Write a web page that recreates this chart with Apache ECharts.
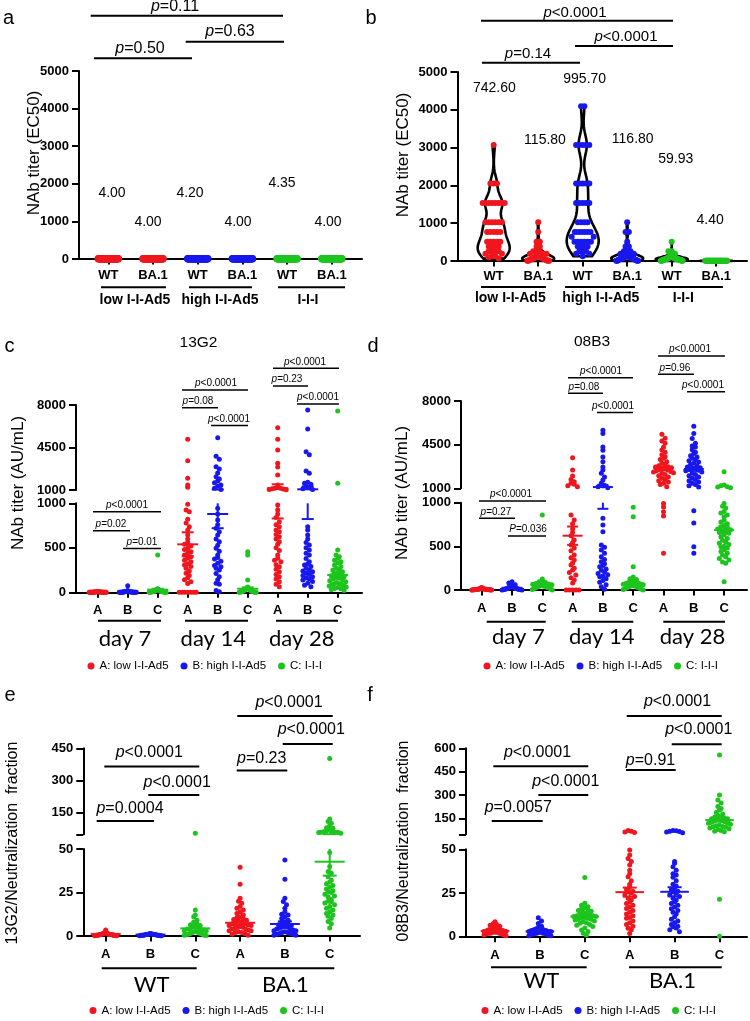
<!DOCTYPE html>
<html><head><meta charset="utf-8">
<script src="https://cdn.jsdelivr.net/npm/echarts@6.0.0/dist/echarts.min.js"></script>
<style>html,body{margin:0;padding:0;background:#fff}#c{width:750px;height:1021px}</style>
</head><body><div id="c"></div>
<script>
// ================= DATA =================
const SERIES_NAMES = ['A: low I-I-Ad5', 'B: high I-I-Ad5', 'C: I-I-I'];

// ---- panel a : NAb titer (EC50) ----
const A_CATS = ['WT', 'BA.1', 'WT', 'BA.1', 'WT', 'BA.1'];
const A_GROUP_LABELS = ['low I-I-Ad5', 'high I-I-Ad5', 'I-I-I'];
const A_GMT = ['4.00', '4.00', '4.20', '4.00', '4.35', '4.00'];
const A_PVALS = ['p=0.11', 'p=0.63', 'p=0.50'];
const A_LOW_WT = [4,4,4,4,4,4,4,4,4,4,4,4,4,4,4,4,4,4,4,4,4,4,4,4,4,4,4,4,4,4,4,4,4,4,4,4,4,4,4,4];
const A_LOW_BA1 = [4,4,4,4,4,4,4,4,4,4,4,4,4,4,4,4,4,4,4,4,4,4,4,4,4,4,4,4,4,4,4,4,4,4,4,4,4,4,4,4];
const A_HIGH_WT = [8,8,8,4,4,4,4,4,4,4,4,4,4,4,4,4,4,4,4,4,4,4,4,4,4,4,4,4,4,4,4,4,4,4,4,4,4,4,4,4];
const A_HIGH_BA1 = [4,4,4,4,4,4,4,4,4,4,4,4,4,4,4,4,4,4,4,4,4,4,4,4,4,4,4,4,4,4,4,4,4,4,4,4,4,4,4,4];
const A_III_WT = [8,8,8,8,8,4,4,4,4,4,4,4,4,4,4,4,4,4,4,4,4,4,4,4,4,4,4,4,4,4,4,4,4,4,4,4,4,4,4,4];
const A_III_BA1 = [4,4,4,4,4,4,4,4,4,4,4,4,4,4,4,4,4,4,4,4,4,4,4,4,4,4,4,4,4,4,4,4,4,4,4,4,4,4,4,4];

// ---- panel b : NAb titer (EC50), violins ----
const B_CATS = ['WT', 'BA.1', 'WT', 'BA.1', 'WT', 'BA.1'];
const B_GMT = ['742.60', '115.80', '995.70', '116.80', '59.93', '4.40'];
const B_PVALS = ['p<0.0001', 'p<0.0001', 'p=0.14'];
const B_LOW_WT = [3072,2048,2048,2048,1536,1536,1536,1536,1536,1536,1536,1536,1024,1024,1024,1024,1024,1024,768,768,768,768,768,512,512,512,512,512,384,384,384,384,256,256,256,256,192,192,128,128,96,64];
const B_LOW_BA1 = [1024,768,512,512,384,384,256,256,256,192,192,192,128,128,128,128,128,128,96,96,96,96,64,64,64,64,64,48,48,48,32,32,32,16,16,16,8,8,4,4];
const B_HIGH_WT = [4096,4096,3072,3072,3072,3072,3072,2048,2048,2048,2048,2048,1536,1536,1536,1536,1536,1024,1024,1024,1024,768,768,768,768,768,768,640,640,512,512,512,512,512,512,384,384,384,384,256,256,256,192,192,128];
const B_HIGH_BA1 = [1024,768,768,512,384,384,256,256,256,192,192,128,128,128,128,128,128,96,96,96,96,96,64,64,64,64,64,64,48,48,48,32,32,32,16,16,8,8,4,4];
const B_III_WT = [512,256,256,192,128,128,128,128,128,96,96,96,96,96,64,64,64,64,64,64,64,64,48,48,48,48,48,32,32,32,32,32,32,16,16,16,16,8,8,4,4];
const B_III_BA1 = [8,8,8,8,8,8,4,4,4,4,4,4,4,4,4,4,4,4,4,4,4,4,4,4,4,4,4,4,4,4,4,4,4,4,4,4,4,4,4,4,4];

// ---- panel c : 13G2, NAb titer (AU/mL) ----
const CD_CATS = ['A', 'B', 'C', 'A', 'B', 'C', 'A', 'B', 'C'];
const CD_DAYS = ['day 7', 'day 14', 'day 28'];
const C_TITLE = '13G2';
const C_PVALS = ['p<0.0001', 'p=0.02', 'p=0.01', 'p<0.0001', 'p=0.08', 'p<0.0001', 'p<0.0001', 'p=0.23', 'p<0.0001'];
const C_D7_A = [10,8,6,5,5,4,4,3,3,3,2,2,2,2,1,1,1,1,1,1,0,0,0,0,0,0,0,0,0,0];
const C_D7_B = [74,20,15,12,10,8,8,6,6,5,5,4,4,3,3,2,2,2,1,1,1,0,0,0,0,0,0,0];
const C_D7_C = [419,40,35,30,30,25,20,20,18,15,15,12,10,10,8,8,6,5,5,4,3,2,2,1,1,0,0,0];
const C_D14_A = [5175,3413,1963,1412,1222,989,925,906,820,780,737,700,644,600,560,539,520,494,480,456,440,419,400,382,360,344,320,307,290,270,240,213,190,164,140,119,100,0,0,0,0,0,0,0];
const C_D14_B = [5307,3777,3528,2919,2729,2400,2095,1900,1741,1600,1412,1300,1150,1050,944,880,812,760,719,680,644,600,569,530,494,460,419,390,374,350,326,300,288,270,250,210,175,140,101,90,20,5];
const C_D14_C = [456,419,138,60,55,50,45,40,35,30,30,25,20,20,15,15,10,10,10,5,5,5,0,0,0,0,0];
const C_D28_A = [6131,5175,4294,3199,2900,2235,1412,1200,1150,1140,1100,1080,1050,1020,981,925,880,840,793,760,737,700,681,650,625,600,569,540,500,470,420,382,360,344,310,288,260,232,200,175,150,119,90,63];
const C_D28_B = [7588,6023,4154,3900,2565,2375,1634,1550,1470,1300,1190,1100,1050,737,700,644,600,560,531,500,475,440,419,380,344,320,307,290,270,250,240,230,213,200,190,175,160,150,138,120,101,80,63];
const C_D28_C = [7505,1549,475,419,400,382,360,344,330,307,290,270,260,250,232,220,210,194,185,175,165,157,150,140,130,119,110,100,95,90,82,75,70,60,55,44,40,30,20];
const C_MEAN = [3, 8, 30, 539, 880, 40, 1150, 1058, 194];
const C_SEM = [1, 3, 10, 135, 160, 15, 320, 235, 22];

// ---- panel d : 08B3, NAb titer (AU/mL) ----
const D_TITLE = '08B3';
const D_PVALS = ['p<0.0001', 'p=0.27', 'P=0.036', 'p<0.0001', 'p=0.08', 'p<0.0001', 'p<0.0001', 'p=0.96', 'p<0.0001'];
const D_D7_A = [30,25,20,18,15,15,12,12,10,10,10,8,8,8,6,6,5,5,4,4,3,3,2,2,1,1,0,0];
const D_D7_B = [95,80,60,50,45,40,35,30,30,25,25,20,20,18,15,15,12,10,10,8,6,5,4,2,0,0];
const D_D7_C = [859,126,110,95,85,75,70,65,60,55,50,50,45,45,40,40,35,35,30,30,25,20,20,15,10,5,0];
const D_D14_A = [3454,2468,1986,1700,1530,1400,1321,1200,1128,859,802,760,700,660,620,573,540,515,480,450,401,370,344,310,286,250,229,200,172,140,115,80,0,0,0,0,0];
const D_D14_B = [5652,5385,4310,4050,3514,3133,2700,2468,2200,1900,1665,1400,1250,1128,1050,821,745,668,515,490,458,420,382,350,324,300,280,267,240,225,210,190,175,160,153,130,110,90,60,38,10];
const D_D14_C = [947,840,267,150,130,120,110,100,90,85,80,75,70,65,60,55,50,45,40,35,30,25,20,15,10,5,0];
const D_D28_A = [5331,5010,4800,4609,4300,4072,3900,3700,3537,3400,3300,3133,3000,2900,2800,2732,2700,2650,2600,2550,2500,2468,2400,2350,2300,2250,2200,2100,2000,1900,1800,1700,1600,1500,1400,1300,1128,990,951,897,848,421];
const D_D28_B = [5985,5400,5000,4609,4400,4310,4100,3900,3800,3600,3500,3400,3300,3200,3100,3000,2900,2800,2700,2650,2600,2550,2500,2450,2400,2300,2200,2100,2000,1900,1800,1700,1600,1500,1400,1300,1200,1100,908,767,496,421];
const D_D28_C = [2331,1265,1200,1128,1100,1050,990,960,938,900,881,860,840,800,780,760,740,725,710,700,690,680,670,660,649,630,610,590,570,550,535,520,500,496,480,458,440,421,400,382,360,344,320,305,95];
const D_MEAN = [10, 25, 45, 622, 1100, 65, 2604, 2549, 687];
const D_SEM = [2, 5, 8, 105, 170, 25, 150, 150, 40];

// ---- panel e : 13G2/Neutralization fraction ----
const EF_CATS = ['A', 'B', 'C', 'A', 'B', 'C'];
const EF_VARIANTS = ['WT', 'BA.1'];
const E_PVALS = ['p<0.0001', 'p<0.0001', 'p=0.0004', 'p<0.0001', 'p<0.0001', 'p=0.23'];
const E_WT_A = [3.5,2.5,2,2,1.8,1.5,1.5,1.2,1.2,1,1,1,1,0.9,0.8,0.8,0.7,0.7,0.6,0.6,0.5,0.5,0.5,0.4,0.4,0.3,0.3,0.2,0.2,0.1];
const E_WT_B = [1.5,1.3,1.2,1.1,1,1,0.9,0.9,0.8,0.8,0.7,0.7,0.6,0.6,0.5,0.5,0.5,0.4,0.4,0.3,0.3,0.2,0.2,0.1];
const E_WT_C = [55,15,12,11,9,8,7,6.5,6,5.5,5,4.5,4,4,3.5,3,3,2.5,2.5,2,2,1.5,1.5,1,1,0.8,0.5,0.5,0.3];
const E_BA1_A = [39.5,29.7,21.7,20,18.8,17,16,15,14,13,12,11,10.5,10,9.5,9,8.5,8,7.5,7,7,6.5,6,6,5.5,5,5,4.5,4,4,3.5,3,3,2.5,2,2,1.5,1,0.5];
const E_BA1_B = [43.7,32.6,21.7,19.8,18,16,14,12.5,12,11,10,9,8.2,8,7,6.5,6,5.5,5,5,4.5,4,4,3.5,3,3,2.5,2,2,1.5,1.5,1,1,0.5,0.5];
const E_BA1_C = [403,121,110,101,90,80,78,70,65,65,62,62,60,60,58,58,55,48,40,37,36,34,32,31,30,29,28,27,26,25.4,25,24,23,22.6,21,20,19.7,19,18,17,16,15,14,13,12,11.3,10,8.4,7,4.6];
const E_MEAN = [1.2, 0.8, 4.4, 7.6, 6.9, 42.7];
const E_SEM = [0.15, 0.1, 1.8, 1.3, 1.5, 8];

// ---- panel f : 08B3/Neutralization fraction ----
const F_PVALS = ['p<0.0001', 'p<0.0001', 'p=0.0057', 'p<0.0001', 'p<0.0001', 'p=0.91'];
const F_WT_A = [8.6,7.5,7,6.5,6,5.5,5,5,4.5,4.5,4,4,4,3.5,3.5,3.5,3,3,3,3,2.5,2.5,2.5,2,2,2,1.5,1.5,1,1,0.5];
const F_WT_B = [10.9,9,7.5,6,5.5,5,4.5,4,4,3.5,3.5,3,3,3,2.5,2.5,2.5,2,2,2,2,1.5,1.5,1.5,1,1,1,0.5,0.5];
const F_WT_C = [33.8,19.1,18,17.2,16.5,16,15.3,15,14.5,14,13.4,13,12.5,12,12,11.5,11.5,11,11,10.5,10,10,9.6,9,8.5,8,7.7,7,6.5,5.8,5,3.9,3,2,1];
const F_BA1_A = [75,70,65,62,49.6,46.7,44.8,43,41,38,36,34.3,32,30,28.6,27,26,25.7,25,24,23,22,21,20,19,18,17,16.2,15,14,13,12,11,10.5,9,8,7,6,4.8,4,1.9];
const F_BA1_B = [75,72,70,68,65,60,43,42,40,38,36,35.3,34,32,30,29,28,27,26,25.7,25,24,23,22,21,20,19,18,17,16,15,14,13,11.4,10,9,8,7,6,5.7,5,4,2.9];
const F_BA1_C = [557,301,269,250,227,215,205,190,180,170,163,160,155,150,150,145,145,140,140,135,135,130,130,125,125,120,120,115,110,105,100,99,95,90,85,80,75,70,67,21.4,0.3];
const F_MEAN = [3.3, 3.0, 11.5, 25.5, 25.7, 141];
const F_SEM = [0.3, 0.35, 0.9, 2.6, 2.6, 10];

// ================= LAYOUT / STYLE =================
const FONT = '"Liberation Sans", Arial, sans-serif';
const FONT2 = 'Lato, "Liberation Sans", sans-serif';
const COLORS = ['#f0161e', '#1818ee', '#1ec41e'];

const GEO = {
  a: {left: 79, right: 362, c0: 108.3, s: 44.7, xm: 10, dot: 7.5, step: 1, maxW: 20,
      segs: [{top: 71, bottom: 259, min: 0, max: 5000, interval: 1000}]},
  b: {left: 457.5, right: 747, c0: 493.7, s: 44.5, xm: 9, dot: 6, step: 3.3, maxW: 22,
      segs: [{top: 72, bottom: 261, min: 0, max: 5000, interval: 1000}]},
  c: {left: 76, right: 362, c0: 97.7, s: 30, xm: 12, dot: 5, step: 3.2, maxW: 17, mh: 10.5, ch: 6,
      segs: [{top: 405, bottom: 490, min: 1000, max: 8000, ticks: [1000, 4500, 8000], labels: [1000, 4500, 8000]},
             {top: 503.3, bottom: 592.3, min: 0, max: 1000, interval: 500}]},
  d: {left: 461, right: 747, c0: 481.7, s: 30.3, xm: 12, dot: 5, step: 3.2, maxW: 20, mh: 10, ch: 5.5,
      segs: [{top: 401, bottom: 488.3, min: 1000, max: 8000, ticks: [1000, 4500, 8000], labels: [1000, 4500, 8000]},
             {top: 502.7, bottom: 590, min: 0, max: 1000, interval: 500}]},
  e: {left: 83.3, right: 360, c0: 105.7, s: 44.8, xm: 12, dot: 5, step: 3.2, maxW: 22, mh: 15, ch: 7,
      segs: [{top: 748.3, bottom: 834.3, min: 50, max: 450, ticks: [50, 150, 300, 450], labels: [150, 300, 450]},
             {top: 849, bottom: 936, min: 0, max: 50, interval: 25}]},
  f: {left: 466, right: 747, c0: 495, s: 44.9, xm: 12, dot: 5, step: 3.2, maxW: 22, mh: 14.3, ch: 7,
      segs: [{top: 748.3, bottom: 834.3, min: 50, max: 600, ticks: [50, 150, 300, 450, 600], labels: [150, 300, 450, 600]},
             {top: 849.3, bottom: 936.7, min: 0, max: 50, interval: 25}]}
};

const grids = [], xAxes = [], yAxes = [], series = [], graphics = [];

// deterministic dot-plot layout: values in the same pixel row are spread sideways
function swarm(vals, ppu, vmin, d, step, maxW) {
  const bins = {};
  vals.forEach(v => {
    const k = Math.floor((v - vmin) * ppu / d + 1e-9);
    (bins[k] = bins[k] || []).push(v);
  });
  const out = [];
  Object.keys(bins).forEach(k => {
    const arr = bins[k].slice().sort((p, q) => q - p);
    const n = arr.length;
    const st = n > 1 ? Math.min(step, maxW / (n - 1)) : 0;
    const pos = [];
    for (let i = 0; i < n; i++) pos.push((i - (n - 1) / 2) * st);
    pos.sort((p, q) => Math.abs(p) - Math.abs(q) || p - q);
    arr.forEach((v, i) => out.push([pos[i], v]));
  });
  return out;
}

function addPanel(key, cats, groups, colorIdx) {
  const G = GEO[key];
  const xmin = (G.left - G.c0) / G.s, xmax = (G.right - G.c0) / G.s;
  const idxs = cats.map((_, i) => i);
  const gIdx = [];
  G.segs.forEach((seg, si) => {
    const gi = grids.length;
    gIdx.push(gi);
    const isBottom = si === G.segs.length - 1;
    grids.push({left: G.left, top: seg.top, width: G.right - G.left, height: seg.bottom - seg.top});
    xAxes.push({type: 'value', gridIndex: gi, min: xmin, max: xmax, show: isBottom,
      axisLine: {show: true, onZero: false, lineStyle: {color: '#000', width: 2}},
      axisTick: {show: true, customValues: idxs, length: 5.5, lineStyle: {color: '#000', width: 2}},
      axisLabel: {show: true, customValues: idxs, formatter: v => cats[Math.round(v)], margin: G.xm,
        color: '#000', fontWeight: 'bold', fontSize: 13, fontFamily: FONT},
      splitLine: {show: false}});
    const yA = {type: 'value', gridIndex: gi, min: seg.min, max: seg.max,
      axisLine: {show: true, onZero: false, lineStyle: {color: '#000', width: 2}},
      axisTick: {show: true, length: 7, lineStyle: {color: '#000', width: 2}},
      axisLabel: {color: '#000', fontWeight: 'bold', fontSize: 13, fontFamily: FONT, margin: 10,
        formatter: v => String(v)},
      splitLine: {show: false}};
    if (seg.interval) yA.interval = seg.interval;
    if (seg.ticks) { yA.axisTick.customValues = seg.ticks; yA.axisLabel.customValues = seg.labels; }
    yAxes.push(yA);
  });
  const lowerMax = G.segs[G.segs.length - 1].max;
  groups.forEach((vals, g) => {
    G.segs.forEach((seg, si) => {
      let sub;
      if (G.segs.length === 1) sub = vals;
      else if (si === G.segs.length - 1) sub = vals.filter(v => v <= lowerMax);
      else sub = vals.filter(v => v > lowerMax);
      if (!sub.length) return;
      const ppu = (seg.bottom - seg.top) / (seg.max - seg.min);
      const pts = swarm(sub, ppu, seg.min, G.dot, G.step, G.maxW).map(p => [g + p[0] / G.s, p[1]]);
      series.push({type: 'scatter', name: SERIES_NAMES[colorIdx[g]], xAxisIndex: gIdx[si], yAxisIndex: gIdx[si],
        data: pts, symbolSize: G.dot, itemStyle: {color: COLORS[colorIdx[g]], opacity: 1},
        z: 3, silent: true, clip: false, animation: false});
    });
  });
  return gIdx;
}

function addMeans(key, gIdx, means, sems, colorIdx) {
  const G = GEO[key];
  G.segs.forEach((seg, si) => {
    series.push({type: 'custom', xAxisIndex: gIdx[si], yAxisIndex: gIdx[si], z: 4, silent: true,
      data: means.map((m, i) => [i, m, sems[i]]),
      renderItem: (params, api) => {
        const i = params.dataIndex;
        const m = api.value(1), s = api.value(2), col = COLORS[colorIdx[i]];
        const lo = m - s, hi = m + s;
        const cx = api.coord([i, seg.min])[0];
        const py = v => api.coord([i, v])[1];
        const ch = [];
        const a = Math.max(lo, seg.min), b = Math.min(hi, seg.max);
        const st = {stroke: col, lineWidth: 2};
        if (b > a) ch.push({type: 'line', shape: {x1: cx, y1: py(a), x2: cx, y2: py(b)}, style: st});
        if (m >= seg.min && m <= seg.max) ch.push({type: 'line', shape: {x1: cx - G.mh, y1: py(m), x2: cx + G.mh, y2: py(m)}, style: st});
        [lo, hi].forEach(v => {
          if (v >= seg.min && v <= seg.max) ch.push({type: 'line', shape: {x1: cx - G.ch, y1: py(v), x2: cx + G.ch, y2: py(v)}, style: st});
        });
        return {type: 'group', children: ch};
      }});
  });
}

function violinPoly(vals, center, halfMax) {
  const mn = Math.min(...vals), mx = Math.max(...vals), range = mx - mn;
  const h = Math.max(range * 0.07, 1);
  const N = 90, ys = [], ds = [];
  for (let k = 0; k <= N; k++) {
    const y = mn + range * k / N;
    let d = 0;
    vals.forEach(v => { const z = (y - v) / h; d += Math.exp(-0.5 * z * z); });
    ys.push(y); ds.push(d);
  }
  const md = Math.max(...ds);
  const right = ys.map((y, k) => [center + ds[k] / md * halfMax, y]);
  const left = ys.map((y, k) => [center - ds[k] / md * halfMax, y]).reverse();
  return right.concat(left);
}

// ---------- build panels ----------
const gA = addPanel('a', A_CATS, [A_LOW_WT, A_LOW_BA1, A_HIGH_WT, A_HIGH_BA1, A_III_WT, A_III_BA1], [0, 0, 1, 1, 2, 2]);
const B_GROUPS = [B_LOW_WT, B_LOW_BA1, B_HIGH_WT, B_HIGH_BA1, B_III_WT, B_III_BA1];
const gB = addPanel('b', B_CATS, B_GROUPS, [0, 0, 1, 1, 2, 2]);
const violins = B_GROUPS.map((vals, i) => violinPoly(vals, i, 16 / GEO.b.s));
series.push({type: 'custom', xAxisIndex: gB[0], yAxisIndex: gB[0], z: 2, silent: true,
  data: violins.map((_, i) => [i]),
  renderItem: (params, api) => ({type: 'polygon',
    shape: {points: violins[params.dataIndex].map(p => api.coord(p))},
    style: {fill: 'none', stroke: '#000', lineWidth: 2.6, lineJoin: 'round'}})});

const CD_COL = [0, 1, 2, 0, 1, 2, 0, 1, 2];
const gC = addPanel('c', CD_CATS, [C_D7_A, C_D7_B, C_D7_C, C_D14_A, C_D14_B, C_D14_C, C_D28_A, C_D28_B, C_D28_C], CD_COL);
addMeans('c', gC, C_MEAN, C_SEM, CD_COL);
const gD = addPanel('d', CD_CATS, [D_D7_A, D_D7_B, D_D7_C, D_D14_A, D_D14_B, D_D14_C, D_D28_A, D_D28_B, D_D28_C], CD_COL);
addMeans('d', gD, D_MEAN, D_SEM, CD_COL);
const EF_COL = [0, 1, 2, 0, 1, 2];
const gE = addPanel('e', EF_CATS, [E_WT_A, E_WT_B, E_WT_C, E_BA1_A, E_BA1_B, E_BA1_C], EF_COL);
addMeans('e', gE, E_MEAN, E_SEM, EF_COL);
const gF = addPanel('f', EF_CATS, [F_WT_A, F_WT_B, F_WT_C, F_BA1_A, F_BA1_B, F_BA1_C], EF_COL);
addMeans('f', gF, F_MEAN, F_SEM, EF_COL);

// ---------- annotations ----------
function hLine(x1, x2, y, w) {
  graphics.push({type: 'line', z: 10, silent: true, shape: {x1: x1, y1: y, x2: x2, y2: y}, style: {stroke: '#000', lineWidth: w}});
}
function txt(str, x, y, size, o) {
  o = o || {};
  graphics.push({type: 'text', x: x, y: y, z: 10, silent: true, rotation: o.rot || 0, style: {
    text: str, fontSize: size, fontFamily: o.family || FONT, fontWeight: o.weight || 'normal',
    fill: '#000', align: o.align || 'center', verticalAlign: 'middle'}});
}
function pText(str, x, y, size) {
  graphics.push({type: 'text', x: x, y: y, z: 10, silent: true, style: {
    text: '{i|' + str[0] + '}{n|' + str.slice(1) + '}',
    rich: {i: {fontStyle: 'italic', fontSize: size, fontFamily: FONT, fill: '#000'},
           n: {fontSize: size, fontFamily: FONT, fill: '#000'}},
    align: 'center', verticalAlign: 'middle'}});
}

// panel letters
[['a', 8.5, 18], ['b', 371, 18], ['c', 9.5, 346], ['d', 373, 346], ['e', 10, 695], ['f', 370, 695]]
  .forEach(t => txt(t[0], t[1], t[2], 20));
// y-axis names
txt('NAb titer (EC50)', 34, 153, 17, {rot: Math.PI / 2});
txt('NAb titer (EC50)', 403.5, 155, 17, {rot: Math.PI / 2});
txt('NAb titer (AU/mL)', 18.5, 483, 17, {rot: Math.PI / 2});
txt('NAb titer (AU/mL)', 402.5, 493, 17, {rot: Math.PI / 2});
txt('13G2/Neutralization  fraction', 13, 843, 16, {rot: Math.PI / 2});
txt('08B3/Neutralization  fraction', 404, 841, 16, {rot: Math.PI / 2});
// titles
txt(C_TITLE, 198.5, 342.5, 15.5);
txt(D_TITLE, 592, 341.5, 15.5);

// panel a
[[90.7, 283, 15.7, 175, 7], [185.7, 284, 41.7, 230, 32], [94, 192, 58.3, 140, 49]].forEach((l, i) => {
  hLine(l[0], l[1], l[2], 2); pText(A_PVALS[i], l[3], l[4], 16);
});
[[112, 193], [148, 222], [190, 193], [238, 222], [282, 183], [328, 222]].forEach((p, i) => txt(A_GMT[i], p[0], p[1], 14));
[[101, 166, 135], [189, 252, 220], [278, 345, 308]].forEach((l, i) => {
  hLine(l[0], l[1], 287.3, 2); txt(A_GROUP_LABELS[i], l[2], 300, 14, {weight: 'bold'});
});
// panel b
[[481, 673, 20.7, 575, 12.7], [575, 673, 46, 626, 36.7], [482, 580, 62.7, 528, 54]].forEach((l, i) => {
  hLine(l[0], l[1], l[2], 2); pText(B_PVALS[i], l[3], l[4], 15);
});
[[494.3, 88.3], [545, 140], [584.7, 78.7], [632.7, 139], [675.7, 158.7], [710.2, 220]].forEach((p, i) => txt(B_GMT[i], p[0], p[1], 14));
[[481, 546, 510.3], [565, 635, 600.8], [658, 723, 683.3]].forEach((l, i) => {
  hLine(l[0], l[1], 287, 2); txt(A_GROUP_LABELS[i], l[2], 298.5, 14, {weight: 'bold'});
});
// panel c
[[511.7, 93, 161, 127], [530.7, 93, 130, 111], [548.5, 123, 161, 142],
 [390, 182, 248, 216], [407.7, 182, 218, 198], [425.5, 211, 248, 229],
 [368.3, 273, 339, 305], [386, 273, 308, 287], [404, 297, 339, 318]].forEach((l, i) => {
  hLine(l[1], l[2], l[0], 1.5); pText(C_PVALS[i], l[3], l[0] - 6.3, 10);
});
[[98, 161, 125], [185, 248, 213.3], [276, 338, 301.7]].forEach((l, i) => {
  hLine(l[0], l[1], 620.7, 2); txt(CD_DAYS[i], l[2], 638.5, 22, {family: FONT2});
});
// panel d
[[501, 479, 546, 511], [518.3, 479, 515, 496], [536, 508, 546, 528],
 [377.7, 568, 633, 601], [393.3, 568, 603, 584], [412.5, 597, 633, 613],
 [356, 658, 725, 690], [374.3, 658, 694, 675], [391.7, 687, 725, 703]].forEach((l, i) => {
  hLine(l[1], l[2], l[0], 1.5); pText(D_PVALS[i], l[3], l[0] - 6.3, 10);
});
[[486.7, 545.7, 518.3], [571.7, 633.3, 601.7], [663.3, 725, 692.5]].forEach((l, i) => {
  hLine(l[0], l[1], 621.7, 2); txt(CD_DAYS[i], l[2], 637.3, 22, {family: FONT2});
});
// panel e
[[766.5, 104.3, 199.3, 149.3, 753], [795, 148.3, 199.3, 177.2, 782.3], [821, 96.7, 154, 130, 809],
 [716, 237.3, 332.7, 289, 702.3], [744, 282.7, 332.7, 311.3, 730], [770.5, 236.7, 287.3, 261.7, 759]].forEach((l, i) => {
  hLine(l[1], l[2], l[0], 2); pText(E_PVALS[i], l[3], l[4], 16);
});
[[101.7, 196.7, 151.7], [237.7, 334.3, 285.3]].forEach((l, i) => {
  hLine(l[0], l[1], 968.3, 2); txt(EF_VARIANTS[i], l[2], 985, 22, {family: FONT2});
});
// panel f
[[766.3, 493.3, 588.3, 537.5, 752.5], [795, 538.3, 588.3, 565.8, 781.7], [821, 491.7, 542.7, 518.3, 807.8],
 [716, 626.7, 721.7, 677.5, 701.7], [744.3, 671.7, 721.7, 698.8, 730], [770, 626, 675.7, 650.5, 760.5]].forEach((l, i) => {
  hLine(l[1], l[2], l[0], 2); pText(F_PVALS[i], l[3], l[4], 16);
});
[[491, 586.7, 541.3], [629, 721.7, 672.5]].forEach((l, i) => {
  hLine(l[0], l[1], 967.3, 2); txt(EF_VARIANTS[i], l[2], 980.5, 22, {family: FONT2});
});

// legends
function legendAt(left, top) {
  return {left: left, top: top, data: SERIES_NAMES, icon: 'circle', itemWidth: 7, itemHeight: 7, itemGap: 12,
    selectedMode: false, padding: 0, textStyle: {fontSize: 11.5, fontFamily: FONT, color: '#000'}};
}

const option = {
  animation: false,
  backgroundColor: '#fff',
  grid: grids, xAxis: xAxes, yAxis: yAxes, series: series,
  legend: [legendAt(87.5, 660), legendAt(483.5, 660), legendAt(89.5, 1004.5), legendAt(481.5, 1004.5)],
  graphic: graphics
};
const chart = echarts.init(document.getElementById('c'), null, {width: 750, height: 1021});
chart.setOption(option);
</script></body></html>
